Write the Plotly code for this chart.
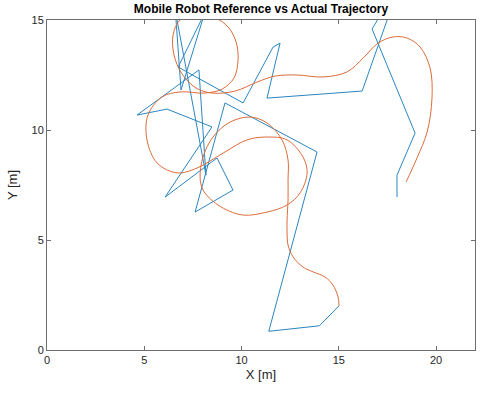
import plotly.graph_objects as go

# Reference trajectory (waypoint polyline), metres
ref_x = [15.0, 14.0, 11.4, 13.88, 9.15, 7.61, 9.56, 8.74, 6.07, 8.48, 6.17, 4.63,
         7.81, 8.17, 6.6, 6.89, 8.1, 6.74, 10.08, 11.62, 11.98, 11.31, 16.2,
         18.2, 16.71, 18.92, 17.99, 17.99]
ref_y = [2.0, 1.1, 0.85, 9.0, 11.23, 6.27, 7.27, 8.73, 6.95, 10.14, 10.95, 10.68,
         12.73, 7.95, 15.4, 11.82, 15.3, 12.86, 11.23, 13.77, 13.95, 11.45, 11.77,
         16.8, 14.59, 9.86, 7.95, 6.95]

# Actual trajectory, metres
act_x = [15.01, 14.96, 14.70, 14.29, 13.68, 13.16, 12.65, 12.39, 12.34, 12.34,
         12.39, 12.39, 12.39, 12.08, 11.31, 10.44, 9.41, 8.53, 8.02, 7.87,
         8.02, 8.79, 10.03, 11.31, 12.34, 13.01, 13.37, 13.16, 12.34, 11.31,
         10.28, 9.05, 7.71, 6.68, 5.66, 5.14, 5.19, 5.91, 6.84, 8.12,
         9.0, 9.61, 9.82, 9.72, 9.31, 8.64, 7.61, 6.84, 6.48, 6.53,
         6.94, 7.66, 8.48, 9.67, 10.8, 11.72, 12.85, 14.19, 15.42, 16.25,
         17.02, 17.79, 18.51, 19.18, 19.69, 19.79, 19.54, 19.02, 18.46]
act_y = [2.0, 2.41, 2.95, 3.32, 3.55, 3.77, 4.23, 4.77, 5.32, 5.91,
         6.82, 7.73, 8.64, 9.55, 10.32, 10.59, 10.36, 9.68, 8.77, 7.86,
         7.27, 6.59, 6.14, 6.27, 6.59, 7.14, 8.05, 8.77, 9.55, 9.68,
         9.55, 8.95, 8.27, 8.05, 8.5, 9.55, 10.68, 11.5, 11.73, 11.68,
         11.86, 12.36, 13.18, 14.0, 14.68, 15.09, 15.18, 15.0, 14.32, 13.41,
         12.55, 11.91, 11.68, 11.77, 12.18, 12.45, 12.5, 12.41, 12.64, 13.27,
         13.95, 14.23, 14.18, 13.77, 12.82, 11.45, 9.91, 8.73, 7.64]

x_ticks = [0, 5, 10, 15, 20]
y_ticks = [0, 5, 10, 15]

fig = go.Figure()
fig.add_trace(go.Scatter(x=ref_x, y=ref_y, mode="lines",
                         line=dict(color="#2a86c0", width=1), name="Reference"))
fig.add_trace(go.Scatter(x=act_x, y=act_y, mode="lines",
                         line=dict(color="#dc6c3a", width=1, shape="spline", smoothing=1.0),
                         name="Actual"))

font_family = "Liberation Sans, Arial, Helvetica, sans-serif"
axis_common = dict(showgrid=False, zeroline=False, showline=True, linecolor="#6e6e6e",
                   linewidth=1, mirror="ticks", ticks="inside", ticklen=4,
                   tickcolor="#6e6e6e", automargin=False,
                   tickfont=dict(family=font_family, size=11, color="#262626"))

fig.update_layout(
    width=480, height=396,
    margin=dict(l=47, r=5, t=20, b=46),
    paper_bgcolor="white", plot_bgcolor="white",
    showlegend=False,
    title=dict(text="<b>Mobile Robot Reference vs Actual Trajectory</b>",
               x=0.5, xref="paper", y=1 - 9 / 396, yref="container", yanchor="middle",
               font=dict(family=font_family, size=12, color="black")),
    xaxis=dict(range=[0, 22], tickvals=x_ticks,
               title=dict(text="X [m]", standoff=4,
                          font=dict(family=font_family, size=13, color="#262626")),
               **axis_common),
    yaxis=dict(range=[0, 15], tickvals=y_ticks,
               title=dict(text="Y [m]", standoff=10,
                          font=dict(family=font_family, size=13, color="#262626")),
               **axis_common),
)

fig.write_html("out.html",
               config={"displayModeBar": False},
               post_script="document.body.style.margin='0';document.body.style.overflow='hidden';")
